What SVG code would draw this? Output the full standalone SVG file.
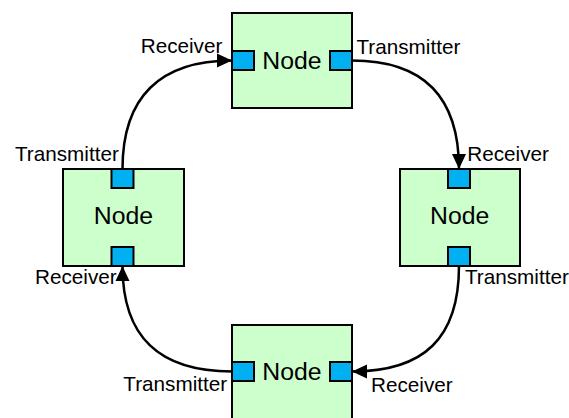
<svg xmlns="http://www.w3.org/2000/svg" width="569" height="418" viewBox="0 0 569 418">
  <style>
    .box { fill: #CCFFCC; stroke: #000; stroke-width: 2; }
    .port { fill: #00B0F0; stroke: #000; stroke-width: 2; }
    .title { font-family: "Liberation Sans", Arial, sans-serif; font-size: 24.8px; fill: #000; text-anchor: middle; }
    .lbl { font-family: "Liberation Sans", Arial, sans-serif; font-size: 20.7px; fill: #000; }
    .link { fill: none; stroke: #000; stroke-width: 2.5; marker-end: url(#arrow); }
  </style>
  <defs>
    <marker id="arrow" markerUnits="userSpaceOnUse" markerWidth="16" markerHeight="16" viewBox="0 0 16 16" refX="15" refY="8" orient="auto">
      <path d="M0,1 L15,8 L0,15 Z" fill="#000"/>
    </marker>
  </defs>

  <!-- connectors: ring of curved links, transmitter to receiver -->
  <g id="connectors">
    <path class="link" d="M122.5,169 C122.5,97 160,60.5 232,60.5"/>
    <path class="link" d="M352,60.5 C424,60.5 459,97 459,169"/>
    <path class="link" d="M459,266 C459,338 424,371.5 352,371.5"/>
    <path class="link" d="M232,371.5 C160,371.5 122.5,338 122.5,266"/>
  </g>

  <g id="node-top">
    <rect class="box" x="232" y="13" width="120" height="95"/>
    <rect class="port" x="232" y="51" width="22" height="19"/>
    <rect class="port" x="330" y="51" width="22" height="19"/>
    <text class="title" x="292" y="68.5">Node</text>
    <text class="lbl" x="140.7" y="53.3">Receiver</text>
    <text class="lbl" x="356.5" y="54">Transmitter</text>
  </g>

  <g id="node-left">
    <rect class="box" x="63" y="169" width="121" height="97"/>
    <rect class="port" x="111.5" y="169" width="22" height="19"/>
    <rect class="port" x="111.5" y="247" width="22" height="19"/>
    <text class="title" x="123.5" y="224">Node</text>
    <text class="lbl" x="15" y="160.7">Transmitter</text>
    <text class="lbl" x="35" y="283.5">Receiver</text>
  </g>

  <g id="node-right">
    <rect class="box" x="400" y="169" width="120" height="97"/>
    <rect class="port" x="448" y="169" width="22" height="19"/>
    <rect class="port" x="448" y="247" width="22" height="19"/>
    <text class="title" x="459.7" y="224">Node</text>
    <text class="lbl" x="467.3" y="160.7">Receiver</text>
    <text class="lbl" x="465" y="283.5">Transmitter</text>
  </g>

  <g id="node-bottom">
    <rect class="box" x="232" y="325" width="120" height="100"/>
    <rect class="port" x="232" y="362" width="22" height="19"/>
    <rect class="port" x="330" y="362" width="22" height="19"/>
    <text class="title" x="292" y="380">Node</text>
    <text class="lbl" x="123.3" y="391">Transmitter</text>
    <text class="lbl" x="371" y="391.7">Receiver</text>
  </g>
</svg>
